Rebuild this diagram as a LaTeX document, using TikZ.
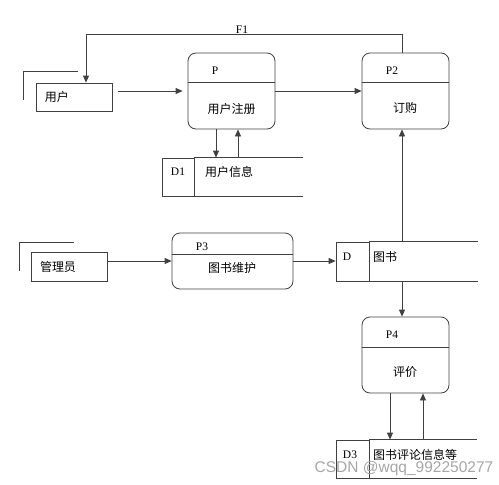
\documentclass[tikz,border=0pt]{standalone}
\usepackage{fontspec}
\setmainfont{Liberation Serif}
\newfontfamily\cjk{Noto Sans CJK SC}
\newfontfamily\wmfont{Liberation Sans}
\usetikzlibrary{arrows.meta,calc}
\begin{document}
\begin{tikzpicture}[x=1pt,y=-1pt,
  ln/.style={draw=black!75,line width=0.8pt},
  arr/.style={ln,-{Triangle[length=7pt,width=6pt]}},
  proc/.style={ln,rounded corners=8pt,minimum width=87pt,inner sep=0pt},
  ent/.style={ln,inner sep=0pt},
  sbox/.style={ln,inner sep=0pt,minimum width=33pt},
  cn/.style={font=\cjk\fontsize{12}{12}\selectfont,inner sep=0pt},
  lab/.style={font=\fontsize{11.5}{12}\selectfont,inner sep=0pt}
]
\useasboundingbox (0,0) rectangle (499,485);
% external entities
\node[ent,minimum width=76pt,minimum height=28pt] (U) at (74,97) {};
\node[cn] (Ut) at (57,97) {用户};
\draw[ln] ($(U.south west)+(-12,-11)$) |- ($(U.north west)+(42,-11)$);

\node[ent,minimum width=76pt,minimum height=29pt] (M) at (69,266.5) {};
\node[cn] (Mt) at (58,267) {管理员};
\draw[ln] ($(M.south west)+(-11,-10)$) |- ($(M.north west)+(43,-9)$);

% processes
\node[proc,minimum height=76pt] (P) at (231.5,91) {};
\draw[ln] ($(P.west)+(0,-9)$) -- ($(P.east)+(0,-9)$);
\node[lab] (Pl) at (215,71) {P};
\node[cn] (Pt) at (231.5,109) {用户注册};

\node[proc,minimum height=76pt] (P2) at (405.5,91) {};
\draw[ln] ($(P2.west)+(0,-9)$) -- ($(P2.east)+(0,-9)$);
\node[lab] (P2l) at (392,71) {P2};
\node[cn] (P2t) at (405,108) {订购};

\node[proc,minimum width=121pt,minimum height=56pt] (P3) at (232.5,261) {};
\draw[ln] ($(P3.west)+(0,-7)$) -- ($(P3.east)+(0,-7)$);
\node[lab] (P3l) at (202,247) {P3};
\node[cn] (P3t) at (232,268) {图书维护};

\node[proc,minimum height=76pt] (P4) at (405.5,355) {};
\draw[ln] ($(P4.west)+(0,-8)$) -- ($(P4.east)+(0,-8)$);
\node[lab] (P4l) at (392,335) {P4};
\node[cn] (P4t) at (405,372) {评价};

% data stores
\node[sbox,minimum width=32pt,minimum height=38pt] (D1) at (178,177) {};
\node[lab] (D1l) at (178,172) {D1};
\node[cn,anchor=west] (D1t) at (205,172) {用户信息};
\draw[ln] (D1.north east) -- ++(109,0) coordinate (D1a);
\draw[ln] (D1.south east) -- ++(109,0) coordinate (D1b);

\node[sbox,minimum height=39pt] (D) at (352.5,261.5) {};
\node[lab] (Dl) at (347,257) {D};
\node[cn,anchor=west] (Dt) at (373,257) {图书};
\draw[ln] (D.north east) -- ++(109,0) coordinate (Da);
\draw[ln] (D.south east) -- ++(109,0) coordinate (Db);

\node[sbox,minimum height=38pt] (D3) at (352.5,459) {};
\node[lab] (D3l) at (350,455) {D3};
\node[cn,anchor=west] (D3t) at (373,455) {图书评论信息等};
\draw[ln] (D3.north east) -- ++(108,0) coordinate (D3a);
\draw[ln] (D3.south east) -- ++(108,0) coordinate (D3b);

% flows
\draw[arr,shorten <=6pt,shorten >=5pt] (U.east|-P.west) -- (P.west);
\draw[arr] (P.east) -- (P2.west);
\draw[arr] ([xshift=-3.5pt]P2.north) -- ++(0,-18) -| ([xshift=12pt]U.north);
\node[lab] (F1) at (242,30) {F1};
\draw[arr] ([xshift=-15.5pt]P.south) -- ([xshift=-15.5pt]P.south|-D1.north);
\draw[arr] ([xshift=6.5pt]P.south|-D1.north) -- ([xshift=6.5pt]P.south);
\draw[arr] (M.east|-P3.west) -- (P3.west);
\draw[arr] (P3.east) -- (D.west|-P3.east);
\draw[arr] ([xshift=-3.5pt]P2.south|-D.north) -- ([xshift=-3.5pt]P2.south);
\draw[arr] ([xshift=-3.5pt]P4.north|-D.south) -- ([xshift=-3.5pt]P4.north);
\draw[arr] ([xshift=-15.5pt]P4.south) -- ([xshift=-15.5pt]P4.south|-D3.north);
\draw[arr] ([xshift=17.5pt]P4.south|-D3.north) -- ([xshift=17.5pt]P4.south);

% watermark
\node[font=\wmfont\fontsize{15.5}{16}\selectfont,text=black!35,inner sep=0pt] (wm) at (404,468) {CSDN @wqq\_992250277};
\end{tikzpicture}
\end{document}
